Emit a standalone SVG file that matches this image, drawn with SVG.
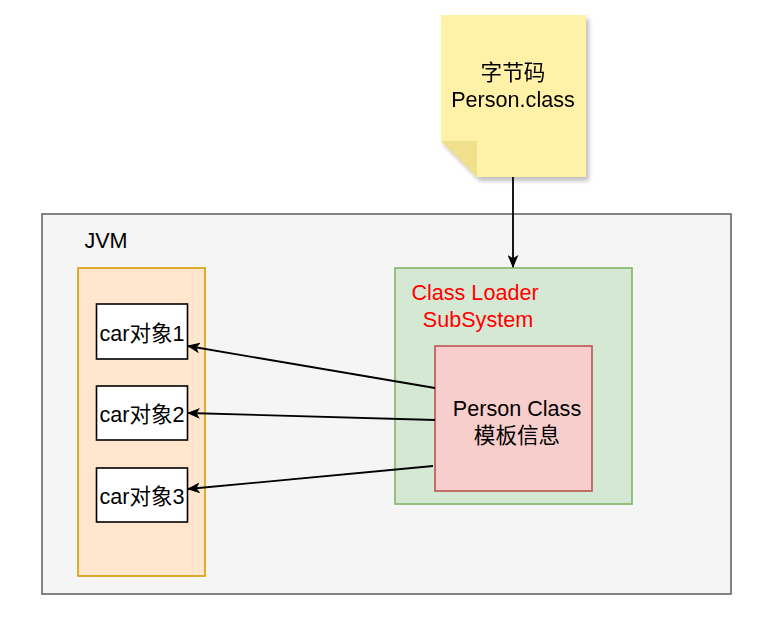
<svg xmlns="http://www.w3.org/2000/svg" width="781" height="620" viewBox="0 0 781 620">
<style>
text{font-family:"Liberation Sans","Noto Sans CJK SC",Arial,sans-serif;font-size:21.6px;fill:#000;text-anchor:middle}
.red{fill:#ff0000}
.edge{stroke:#000;stroke-width:1.8;fill:none}
.obj{fill:#fff;stroke:#000;stroke-width:1.6}
</style>
<defs>
<marker id="arr" viewBox="0 0 12 10" refX="11" refY="5" markerWidth="13" markerHeight="11" markerUnits="userSpaceOnUse" orient="auto">
<path d="M0,0 L12,5 L0,10 L3,5 Z" fill="#000"/>
</marker>
<filter id="sh" x="-20%" y="-20%" width="150%" height="150%">
<feGaussianBlur in="SourceAlpha" stdDeviation="2"/>
<feOffset dx="3" dy="4" result="b"/>
<feComponentTransfer><feFuncA type="linear" slope="0.25"/></feComponentTransfer>
<feMerge><feMergeNode/><feMergeNode in="SourceGraphic"/></feMerge>
</filter>
</defs>
<rect width="781" height="620" fill="#fff"/>
<g id="jvm">
<rect x="42" y="214" width="689" height="380" fill="#f5f5f5" stroke="#666" stroke-width="1.6"/>
<text x="106" y="248">JVM</text>
</g>
<g id="heap">
<rect x="78" y="268" width="127" height="308" fill="#ffe6cc" stroke="#d79b00" stroke-width="1.6"/>
</g>
<g id="car1"><rect class="obj" x="96.5" y="304" width="91" height="55"/><text x="142" y="341">car对象1</text></g>
<g id="car2"><rect class="obj" x="96.5" y="386" width="91" height="54"/><text x="142" y="422">car对象2</text></g>
<g id="car3"><rect class="obj" x="96.5" y="468" width="91" height="54"/><text x="142" y="504">car对象3</text></g>
<g id="classloader">
<rect x="395" y="268" width="237" height="236" fill="#d5e8d4" stroke="#82b366" stroke-width="1.6"/>
<text class="red" x="475" y="300">Class Loader</text>
<text class="red" x="478" y="327">SubSystem</text>
</g>
<g id="personclass">
<rect x="435" y="346" width="157" height="145" fill="#f8cecc" stroke="#b85450" stroke-width="1.6"/>
<text x="517" y="416">Person Class</text>
<text x="517" y="443">模板信息</text>
</g>
<g id="bytecode" filter="url(#sh)">
<path d="M441,15 H586 V177 H477 L441,141 Z" fill="#fff2a8"/>
<path d="M441,141 H477 V177 Z" fill="#f0e08c"/>
<text x="513" y="80">字节码</text>
<text x="513" y="107">Person.class</text>
</g>
<g id="connectors">
<path class="edge" d="M513,177 V267" marker-end="url(#arr)"/>
<path class="edge" d="M435,388 L188,346" marker-end="url(#arr)"/>
<path class="edge" d="M435,420 L188,413" marker-end="url(#arr)"/>
<path class="edge" d="M433,466 L188,489" marker-end="url(#arr)"/>
</g>
</svg>
